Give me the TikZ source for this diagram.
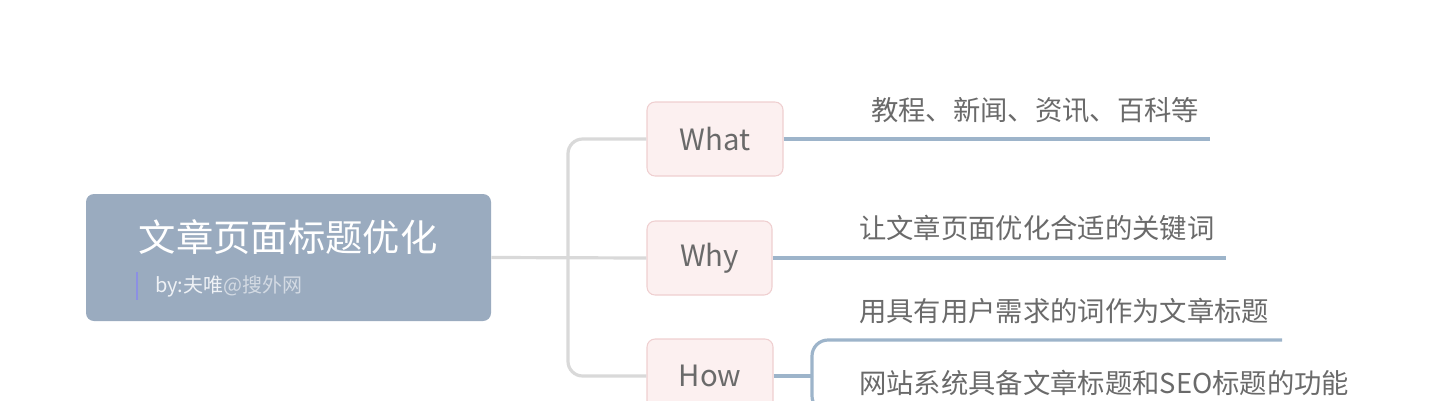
\documentclass[tikz,border=0pt]{standalone}
\usepackage{fontspec}
\setmainfont{Noto Sans CJK SC}
\usepackage{tikz}
\definecolor{rootfill}{HTML}{9AABBF}
\definecolor{topicfill}{HTML}{FCF0F0}
\definecolor{topicline}{HTML}{EFCFD0}
\definecolor{trunkgray}{HTML}{D9D9D9}
\definecolor{twigblue}{HTML}{9DB4CA}
\definecolor{inkgray}{HTML}{6A6A6A}
\definecolor{subwhite}{HTML}{EEF1F5}
\definecolor{subgray}{HTML}{D3DAE3}
\definecolor{barblue}{HTML}{8C90E3}
\tikzstyle{rootbox} = [rectangle, fill=rootfill, rounded corners=6pt, minimum width=303.75pt, minimum height=95.25pt]
\tikzstyle{topic} = [rectangle, draw=topicline, line width=0.8pt, fill=topicfill, rounded corners=6pt, minimum height=55.5pt, text=inkgray, font=\fontsize{22}{26}\selectfont]
\tikzstyle{leaf} = [anchor=west, inner sep=0pt, text=inkgray, font=\fontsize{20.5}{24}\selectfont]
\tikzstyle{trunk} = [draw=trunkgray, line width=2.4pt, rounded corners=11pt]
\tikzstyle{twig} = [draw=twigblue, line width=2.4pt, rounded corners=12pt]

\begin{document}
\begin{tikzpicture}[x=0.75pt,y=-0.75pt]
		\useasboundingbox (0,0) rectangle (1444,400);
		\clip (0,0) rectangle (1444,400);
		
		% central topic
		\node [rootbox] (root) at (288.5,257.5) {};
		\node [text=white, inner sep=0pt, font=\fontsize{28}{32}\selectfont] (title) at (288,237) {文章页面标题优化};
		\node [anchor=west, inner sep=0pt, font=\fontsize{15}{18}\selectfont] (byline) at (155,286) {\textcolor{subwhite}{by:夫唯}\textcolor{subgray}{@搜外网}};
		\draw [barblue, line width=2.2pt] (137,272) -- (137,300);
		
		% main topics
		\node [topic, minimum width=102pt] (what) at (715,139) {What};
		\node [topic, minimum width=93.75pt] (why) at (709.5,258) {Why};
		\node [topic, minimum width=94.5pt] (how) at (710,376) {How};
		
		\coordinate (fork) at (568,257);
		\draw [trunk] (root.east) -- (why.west);
		\draw [trunk] (what.west) -| (fork) |- (how.west);
		
		% subtopics
		\coordinate (whatend) at (1210,139);
		\coordinate (whyend) at (1226,258);
		\coordinate (howfork) at (812,376);
		\coordinate (howaend) at (1282,340);
		\coordinate (howbend) at (1360,412);
		\draw [twig] (what.east) -- (whatend);
		\draw [twig] (why.east) -- (whyend);
		\draw [twig] (how.east) -- (howfork);
		\draw [twig] (howfork) |- (howaend);
		\draw [twig] (howfork) |- (howbend);
		
		\node [leaf] (tutorials) at (871,110) {教程、新闻、资讯、百科等};
		\node [leaf] (keywords) at (859,228) {让文章页面优化合适的关键词};
		\node [leaf] (demand) at (859,311) {用具有用户需求的词作为文章标题};
		\node [leaf] (seo) at (859,383) {网站系统具备文章标题和SEO标题的功能};
		
		\end{tikzpicture}
\end{document}
